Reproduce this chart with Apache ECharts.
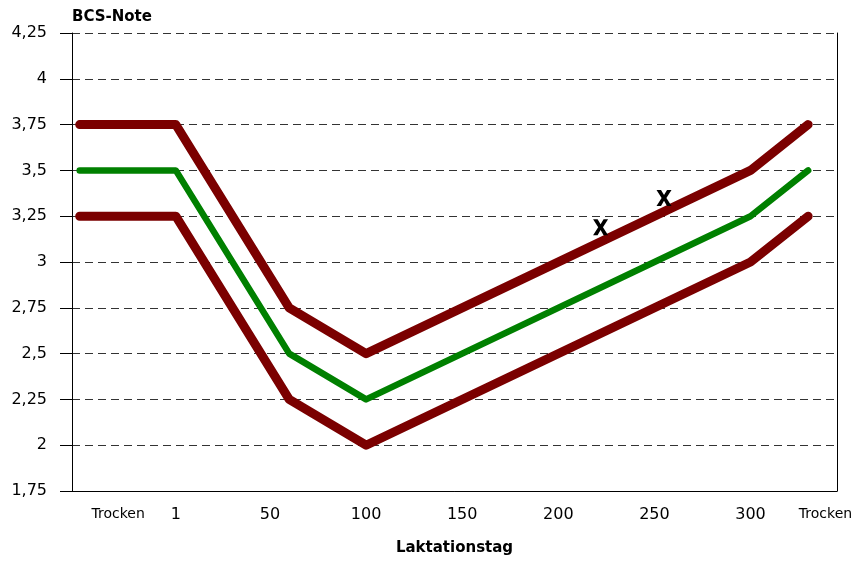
<!DOCTYPE html>
<html>
<head>
<meta charset="utf-8">
<script src="https://cdn.jsdelivr.net/npm/echarts@6/dist/echarts.min.js"></script>
<style>
  html, body { margin: 0; padding: 0; background: #fff; }
  #chart { width: 856px; height: 561px; }
</style>
</head>
<body>
<div id="chart"></div>
<script>
// Body condition score (BCS) target corridor over the lactation
const days = [-49, 1, 60, 100, 300, 330];
const upperBcs = [3.75, 3.75, 2.75, 2.5, 3.5, 3.75];
const targetBcs = [3.5, 3.5, 2.5, 2.25, 3.25, 3.5];
const lowerBcs = [3.25, 3.25, 2.25, 2.0, 3.0, 3.25];

// Individual observations, drawn as bold crosses
const obsDays = [222, 255];
const obsBcs = [3.19, 3.35];

// x-axis tick positions and their labels
const xTickValues = [-29, 1, 50, 100, 150, 200, 250, 300, 339];
const xTickLabels = ['Trocken', '1', '50', '100', '150', '200', '250', '300', 'Trocken'];

const FONT = '"DejaVu Sans", Verdana, sans-serif';
const CROSS_PATH = 'path://M0,0 L30,0 L50,32 L70,0 L100,0 L66,50 L100,100 L70,100 L50,68 L30,100 L0,100 L34,50 Z';
const toPairs = (xs, ys) => xs.map((x, i) => [x, ys[i]]);

const chart = echarts.init(document.getElementById('chart'), null, { renderer: 'canvas' });

chart.setOption({
  backgroundColor: '#ffffff',
  animation: false,
  grid: { left: 72, right: 19, top: 33, bottom: 69, containLabel: false },
  xAxis: {
    type: 'value',
    min: -53,
    max: 345,
    name: 'Laktationstag',
    nameLocation: 'middle',
    nameGap: 50,
    nameTextStyle: { fontFamily: FONT, fontSize: 15, fontWeight: 'bold', color: '#000' },
    axisLine: { show: true, onZero: false, lineStyle: { color: '#000', width: 1 } },
    axisTick: { show: false },
    splitLine: { show: false },
    axisLabel: {
      customValues: xTickValues,
      margin: 16,
      fontFamily: FONT,
      fontSize: 16,
      color: '#000',
      formatter: function (v) {
        const i = xTickValues.indexOf(v);
        const t = i >= 0 ? xTickLabels[i] : '';
        return t === 'Trocken' ? '{s|' + t + '}' : t;
      },
      rich: { s: { fontFamily: FONT, fontSize: 14, color: '#000' } }
    }
  },
  yAxis: [
    {
      type: 'value',
      min: 1.75,
      max: 4.25,
      interval: 0.25,
      name: 'BCS-Note',
      nameLocation: 'end',
      nameGap: 8,
      nameTextStyle: { fontFamily: FONT, fontSize: 15, fontWeight: 'bold', color: '#000', align: 'left' },
      axisLine: { show: true, onZero: false, lineStyle: { color: '#000', width: 1 } },
      axisTick: { show: true, inside: false, length: 12, lineStyle: { color: '#000', width: 1 } },
      splitLine: { show: true, lineStyle: { color: '#333', width: 1, type: [8, 5] } },
      axisLabel: {
        margin: 25,
        fontFamily: FONT,
        fontSize: 16,
        color: '#000',
        showMinLabel: true,
        showMaxLabel: true,
        formatter: v => String(v).replace('.', ',')
      }
    },
    {
      type: 'value',
      position: 'right',
      min: 1.75,
      max: 4.25,
      axisLine: { show: true, onZero: false, lineStyle: { color: '#000', width: 1 } },
      axisTick: { show: false },
      axisLabel: { show: false },
      splitLine: { show: false }
    }
  ],
  series: [
    {
      name: 'Obergrenze',
      type: 'line',
      data: toPairs(days, upperBcs),
      symbol: 'none',
      lineStyle: { color: '#7b0000', width: 9, cap: 'round', join: 'round' },
      z: 3
    },
    {
      name: 'Zielwert',
      type: 'line',
      data: toPairs(days, targetBcs),
      symbol: 'none',
      lineStyle: { color: '#008000', width: 6.5, cap: 'round', join: 'round' },
      z: 3
    },
    {
      name: 'Untergrenze',
      type: 'line',
      data: toPairs(days, lowerBcs),
      symbol: 'none',
      lineStyle: { color: '#7b0000', width: 9, cap: 'round', join: 'round' },
      z: 3
    },
    {
      name: 'Beobachtung',
      type: 'scatter',
      data: toPairs(obsDays, obsBcs),
      symbol: CROSS_PATH,
      symbolSize: [15, 16],
      symbolKeepAspect: false,
      itemStyle: { color: '#000', opacity: 1 },
      z: 4
    }
  ]
});
</script>
</body>
</html>
